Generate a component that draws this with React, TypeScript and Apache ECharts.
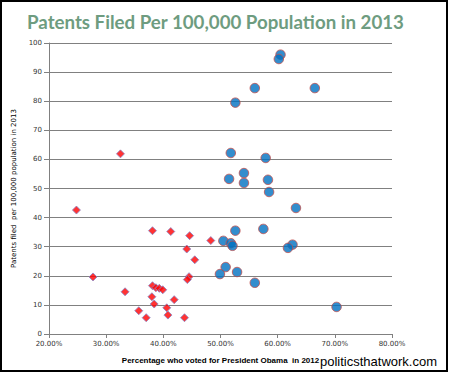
import React, { useEffect, useRef } from "react";
import * as echarts from "echarts";

// States won by Obama in 2012 (blue circles): vote share %, patents per 100k
const blueX = [60.5, 60.2, 56.0, 66.5, 52.6, 51.8, 57.9, 54.1, 51.5, 58.3, 54.1, 58.5, 63.2, 57.5, 52.6, 50.5, 51.8, 52.1, 62.6, 61.8, 50.9, 52.9, 49.9, 56.0, 70.3];
const blueY = [96.0, 94.5, 84.5, 84.5, 79.5, 62.2, 60.5, 55.3, 53.3, 53.0, 51.9, 48.8, 43.3, 36.1, 35.5, 32.0, 31.2, 30.3, 30.7, 29.6, 23.0, 21.3, 20.6, 17.6, 9.3];

// States won by Romney (red diamonds)
const redX = [32.5, 24.8, 38.1, 41.3, 44.6, 48.3, 44.1, 45.5, 27.7, 44.5, 44.2, 38.1, 38.7, 39.3, 39.9, 33.3, 38.0, 41.9, 38.4, 40.6, 35.7, 40.8, 37.0, 43.7];
const redY = [61.9, 42.6, 35.5, 35.2, 33.8, 32.1, 29.2, 25.5, 19.6, 19.7, 18.7, 16.6, 15.9, 15.7, 15.2, 14.5, 12.8, 11.8, 10.3, 9.0, 8.0, 6.5, 5.6, 5.6];

const titleText = "Patents Filed Per 100,000 Population in 2013";
const xAxisName = "Percentage who voted for President Obama  in 2012";
const yAxisName = "Patents filed  per 100,000 population in 2013";
const watermark = "politicsthatwork.com";

export default function App() {
  const ref = useRef<HTMLDivElement>(null);
  useEffect(() => {
    if (!ref.current) return;
    const chart = echarts.init(ref.current, null, { renderer: "svg" });
    const blue = blueX.map((x, i) => [x, blueY[i]]);
    const red = redX.map((x, i) => [x, redY[i]]);
    const axisColor = "#808080";
    chart.setOption({
      animation: false,
      backgroundColor: "#fff",
      title: {
        text: titleText,
        left: 22,
        top: 7,
        textStyle: { fontFamily: "Lato", fontWeight: "bold", fontSize: 18.7, color: "#6E9C80" },
      },
      grid: { left: 49, right: 58, top: 43, bottom: 41 },
      xAxis: {
        type: "value",
        min: 20,
        max: 80,
        interval: 10,
        name: xAxisName,
        nameLocation: "middle",
        nameGap: 22,
        nameTextStyle: { fontFamily: "Liberation Sans", fontWeight: "bold", fontSize: 8, color: "#000" },
        axisLine: { show: true, lineStyle: { color: axisColor, width: 1 } },
        axisTick: { show: true, length: 4, lineStyle: { color: axisColor } },
        axisLabel: { fontFamily: "DejaVu Sans", fontSize: 7, color: "#333", margin: 6, formatter: (v: number) => v.toFixed(2) + "%" },
        splitLine: { show: false },
      },
      yAxis: {
        type: "value",
        min: 0,
        max: 100,
        interval: 10,
        name: yAxisName,
        nameLocation: "middle",
        nameRotate: 90,
        nameGap: 26,
        nameTextStyle: { fontFamily: "DejaVu Sans", fontSize: 7, color: "#000" },
        axisLine: { show: true, lineStyle: { color: axisColor, width: 1 } },
        axisTick: { show: true, length: 5, lineStyle: { color: axisColor } },
        axisLabel: { fontFamily: "DejaVu Sans", fontSize: 7, color: "#333", margin: 7 },
        splitLine: { show: true, lineStyle: { color: axisColor, width: 1 } },
      },
      series: [
        {
          type: "scatter",
          data: red,
          symbol: "diamond",
          symbolSize: 8,
          itemStyle: { color: "#FF0000", borderColor: "#8A86C6", borderWidth: 1 },
        },
        {
          type: "scatter",
          data: blue,
          symbol: "circle",
          symbolSize: 9.5,
          itemStyle: { color: "#0070C0", borderColor: "#C0504D", borderWidth: 1 },
        },
      ],
      graphic: [
        {
          type: "rect",
          shape: { x: 1, y: 1, width: 446, height: 370 },
          style: { fill: "none", stroke: "#000", lineWidth: 2 },
          silent: true,
        },
        {
          type: "text",
          x: 320,
          y: 361,
          style: {
            text: watermark,
            fontFamily: "Liberation Sans",
            fontSize: 13,
            fill: "#000",
            textVerticalAlign: "middle",
            verticalAlign: "middle",
          },
        },
      ],
    });
    return () => chart.dispose();
  }, []);
  return (
    <div
      ref={ref}
      style={{ position: "absolute", left: 0, top: 0, width: 450, height: 375, background: "#fff" }}
    />
  );
}
